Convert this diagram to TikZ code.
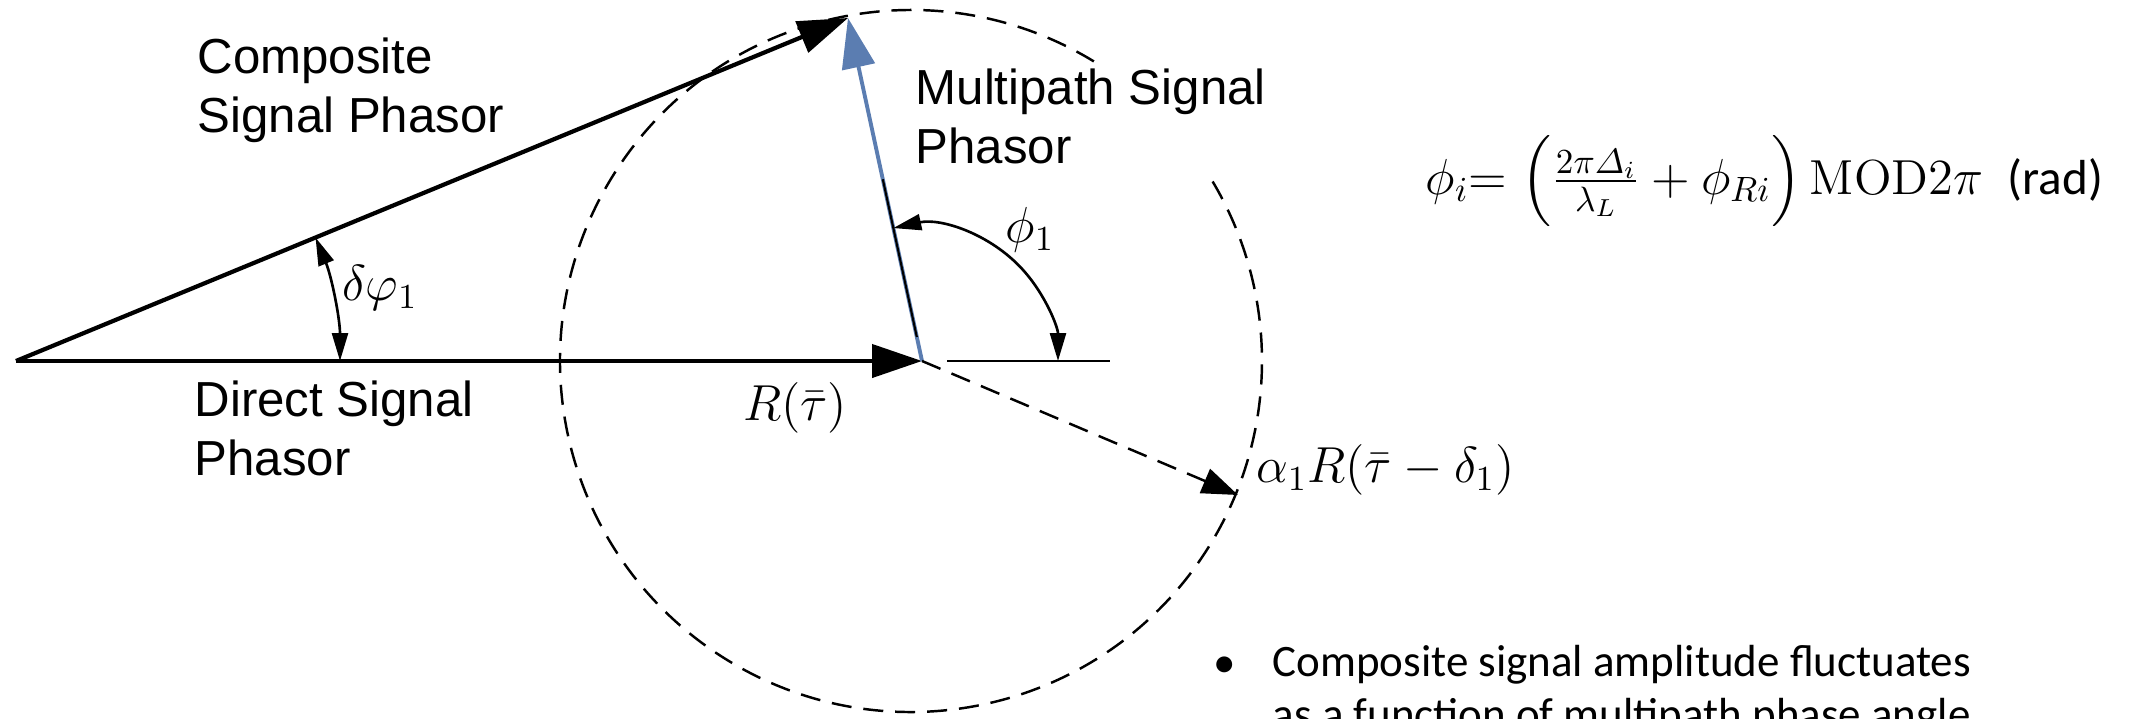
\documentclass[tikz,border=0pt]{standalone}
\usepackage{amsmath}
\usepackage{fontspec}
\newfontfamily\phasorfont{Liberation Sans}
\newfontfamily\notefont{Carlito}
\usepackage{tikz}
\usetikzlibrary{arrows.meta,calc}
\usepackage{xcolor}
\definecolor{multipath}{HTML}{5B7DB1}

\begin{document}
\begin{tikzpicture}[
  phasor/.style={line width=1.2pt,-{Triangle[length=5mm,width=3.3mm]}},
  locus/.style={line width=0.7pt,dash pattern=on 5.7pt off 3.4pt},
  angmark/.style={line width=0.75pt,{Triangle[length=2.8mm,width=1.6mm]}-{Triangle[length=2.8mm,width=1.6mm]}},
  caption/.style={font=\phasorfont\fontsize{14}{16.8}\selectfont,align=left,inner sep=0pt},
  symb/.style={font=\fontsize{14.5}{16}\selectfont,inner sep=0pt},
  note/.style={font=\notefont\fontsize{12.8}{14.8}\selectfont,align=left,inner sep=0pt},
]
  \useasboundingbox (0,0) rectangle (21.31,7.18);

  % phasor end points
  \coordinate (orig) at (0.16,3.57);
  \coordinate (direct) at (9.22,3.57);
  \coordinate (comp) at (8.48,7.00);
  \coordinate (centre) at (9.11,3.57);
  \coordinate (echo) at (12.38,2.23);

  % locus of the multipath phasor
  \draw[locus] ($(centre)+(58.6:3.51)$) arc[start angle=58.6,end angle=392.7,radius=3.51];

  % phasors
  \draw[phasor] (orig) -- (direct);
  \draw[phasor] (orig) -- (comp);
  \draw[phasor,multipath,line width=1.1pt] (direct) -- (comp);
  \draw[line width=0.6pt] ($(direct)!0.07!(comp)$) -- ($(direct)!0.53!(comp)$);
  \draw[locus,-{Triangle[length=3.6mm,width=2.6mm]}] (direct) -- (echo);

  % reference line and angles
  \draw[line width=0.75pt] ($(direct)+(0.25,0)$) -- ($(direct)+(1.88,0)$);
  \draw[angmark] ($(direct)+(102.2:1.36)$) arc[start angle=102.2,end angle=0,radius=1.36];
  \draw[angmark] ($(orig)+(22.4:3.24)$) arc[start angle=22.4,end angle=0,radius=3.24];

  % labels
  \node[caption,anchor=north west] (complabel) at (1.97,6.81) {Composite\\Signal Phasor};
  \node[caption,anchor=north west] (multlabel) at (9.15,6.50) {Multipath Signal\\Phasor};
  \node[caption,anchor=north west] (dirlabel) at (1.94,3.38) {Direct Signal\\Phasor};
  \node[symb] (dphi) at (3.80,4.30) {$\delta\varphi_1$};
  \node[symb] (phi) at (10.30,4.88) {$\phi_1$};
  \node[symb] (rtau) at (7.95,3.10) {$R(\bar{\tau})$};
  \node[symb,anchor=west] (alpha) at (12.56,2.48) {$\alpha_1 R(\bar{\tau}-\delta_1)$};

  % phase formula
  \node[anchor=base west,inner sep=0pt,font=\fontsize{14}{16}\selectfont] (phase) at (14.25,5.24)
    {$\phi_i{=}\;\Bigl(\frac{2\pi\varDelta_i}{\lambda_L}+\phi_{Ri}\Bigr)\,\mathrm{MOD}2\pi$\enspace{\notefont (rad)}};

  % bullet note
  \node[note,anchor=base west] (dot) at (12.13,0.41) {•};
  \node[note,anchor=base west] (remark) at (12.72,-0.11) {Composite signal amplitude fluctuates\\as a function of multipath phase angle};
\end{tikzpicture}
\end{document}
